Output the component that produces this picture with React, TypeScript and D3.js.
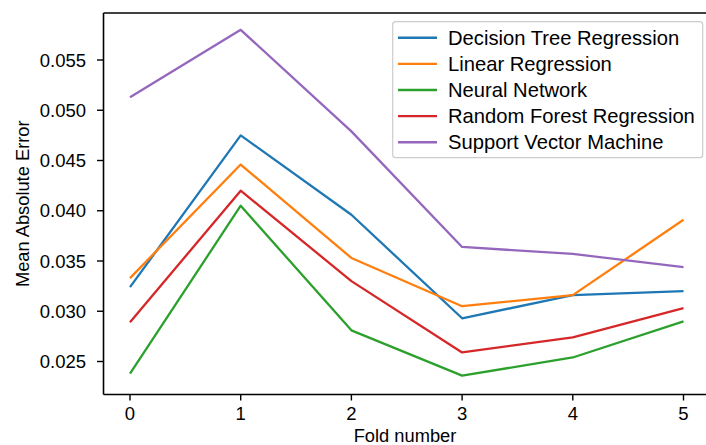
import React from "react";
import * as d3 from "d3";

const folds = [0, 1, 2, 3, 4, 5];
const seriesNames = [
  "Decision Tree Regression",
  "Linear Regression",
  "Neural Network",
  "Random Forest Regression",
  "Support Vector Machine",
];
const decisionTree = [0.0324, 0.0475, 0.0396, 0.0293, 0.0316, 0.0320];
const linearRegression = [0.0333, 0.0446, 0.0353, 0.0305, 0.0316, 0.0391];
const neuralNetwork = [0.0238, 0.0405, 0.0281, 0.0236, 0.0254, 0.0290];
const randomForest = [0.0289, 0.0420, 0.0330, 0.0259, 0.0274, 0.0303];
const svm = [0.0513, 0.0580, 0.0479, 0.0364, 0.0357, 0.0344];
const yTicks = [0.025, 0.03, 0.035, 0.04, 0.045, 0.05, 0.055];
const colors = ["#1f77b4", "#ff7f0e", "#2ca02c", "#d62728", "#9467bd"];

const W = 706;
const H = 445;
const left = 103.5;
const right = 707;
const top = 13;
const bottom = 394.5;
const font = "'Liberation Sans', Arial, sans-serif";

export default function App() {
  const x = d3.scaleLinear().domain([0, 5]).range([130, 683.5]);
  const y = d3.scaleLinear().domain([0.025, 0.055]).range([361.5, 60]);
  const all = [decisionTree, linearRegression, neuralNetwork, randomForest, svm];
  const line = d3
    .line<number>()
    .x((_, i) => x(folds[i]))
    .y((d) => y(d));

  return (
    <svg
      width={W}
      height={H}
      style={{ position: "absolute", left: 0, top: 0, background: "#fff" }}
      fontFamily={font}
    >
      <rect x={0} y={0} width={W} height={H} fill="#fff" />
      {all.map((s, i) => (
        <path
          key={i}
          d={line(s) || ""}
          fill="none"
          stroke={colors[i]}
          strokeWidth={2.3}
          strokeLinejoin="round"
        />
      ))}
      {/* spines */}
      <line x1={left} x2={left} y1={top} y2={bottom} stroke="#000" strokeWidth={1.6} />
      <line x1={left} x2={right} y1={top} y2={top} stroke="#000" strokeWidth={1.6} />
      <line x1={left} x2={right} y1={bottom} y2={bottom} stroke="#000" strokeWidth={1.6} />
      {/* y ticks */}
      {yTicks.map((t) => (
        <g key={t}>
          <line x1={left - 6.5} x2={left} y1={y(t)} y2={y(t)} stroke="#000" strokeWidth={1.4} />
          <text
            x={86}
            y={y(t)}
            textAnchor="end"
            dominantBaseline="central"
            fontSize={18.5}
            fill="#000"
          >
            {d3.format(".3f")(t)}
          </text>
        </g>
      ))}
      {/* x ticks */}
      {folds.map((f) => (
        <g key={f}>
          <line x1={x(f)} x2={x(f)} y1={bottom} y2={bottom + 6} stroke="#000" strokeWidth={1.4} />
          <text
            x={x(f)}
            y={bottom + 19}
            textAnchor="middle"
            dominantBaseline="central"
            fontSize={18.5}
            fill="#000"
          >
            {f}
          </text>
        </g>
      ))}
      <text x={405} y={442} textAnchor="middle" fontSize={18.3} fill="#000">
        Fold number
      </text>
      <text
        transform={`translate(22,${(top + bottom) / 2}) rotate(-90)`}
        textAnchor="middle"
        dominantBaseline="central"
        fontSize={18.3}
        fill="#000"
      >
        Mean Absolute Error
      </text>
      {/* legend */}
      <rect
        x={392.7}
        y={21.7}
        width={310}
        height={136}
        rx={3}
        fill="#fff"
        fillOpacity={0.85}
        stroke="#cccccc"
        strokeWidth={1.2}
      />
      {seriesNames.map((n, i) => {
        const ly = 37.7 + i * 26.15;
        return (
          <g key={n}>
            <line x1={398} x2={437} y1={ly} y2={ly} stroke={colors[i]} strokeWidth={2.4} />
            <text x={448} y={ly} dominantBaseline="central" fontSize={20.2} fill="#000">
              {n}
            </text>
          </g>
        );
      })}
    </svg>
  );
}
